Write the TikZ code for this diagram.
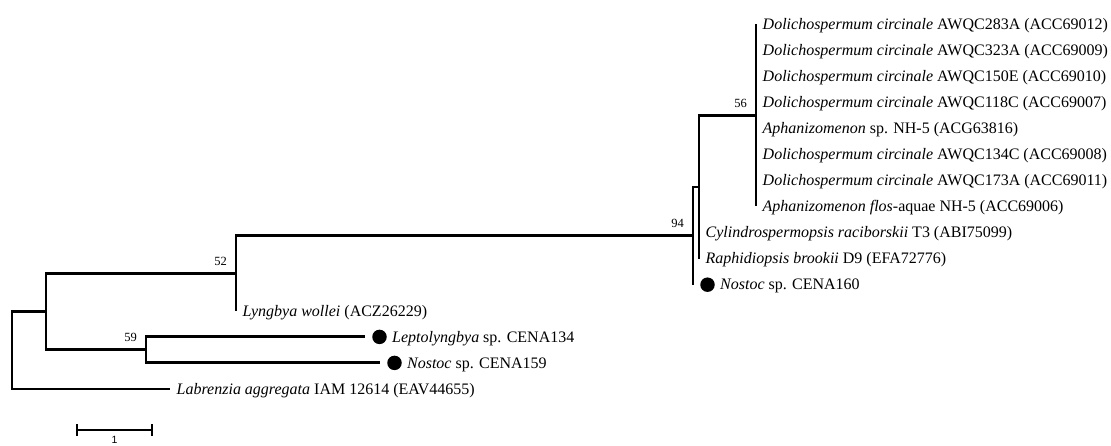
\documentclass[tikz,border=0pt]{standalone}
\usepackage{fontspec}
\setmainfont{Liberation Serif}
\newfontfamily\scalefont{Liberation Sans}
\begin{document}
\begin{tikzpicture}[x=1pt,y=-1pt,
  branch/.style={line width=2.9pt},
  leaf/.style={anchor=base west, inner sep=0pt, font=\fontsize{16}{19}\selectfont, yshift=-5.3pt, xshift=6.5pt},
  dotleaf/.style={anchor=base west, inner sep=0pt, font=\fontsize{16}{19}\selectfont, yshift=-5.3pt, xshift=5pt},
  boot/.style={font=\fontsize{12.5}{15}\selectfont, inner sep=0pt, anchor=base east, xshift=-9pt, yshift=8pt},
  dotmark/.style={circle, fill=black, inner sep=0pt, minimum size=14.5pt, xshift=14.5pt},
  scalebar/.style={line width=1.4pt}
]
\useasboundingbox (0,0) rectangle (1111,446);
% internal nodes
\coordinate (R) at (12,350.3);
\coordinate (C) at (46,311.6);
\coordinate (N52) at (236,273.3);
\coordinate (N59) at (146,349.9);
\coordinate (A) at (693,235.8);
\coordinate (B) at (699,187);
\coordinate (N56) at (756,115.25);
% leaf tips
\foreach \i in {0,...,7} { \coordinate (L\i) at (756,{24+26.07*\i}); }
\coordinate (Cyl) at (699,232.6);
\coordinate (Rap) at (699,258.6);
\coordinate (Nsa) at (693,284.7);
\coordinate (Lyn) at (236,310.8);
\coordinate (Lep) at (365,336.9);
\coordinate (Nsb) at (380,362.9);
\coordinate (Lab) at (170,389);
% branches
\draw[branch] (R) |- (C);
\draw[branch] (R) |- (Lab);
\draw[branch] (C) |- (N52);
\draw[branch] (C) |- (N59);
\draw[branch] (N52) |- (A);
\draw[branch] (N52) |- (Lyn);
\draw[branch] (N59) |- (Lep);
\draw[branch] (N59) |- (Nsb);
\draw[branch] (A) |- (B);
\draw[branch] (A) |- (Nsa);
\draw[branch] (B) |- (N56);
\draw[branch] (B) |- (Cyl);
\draw[branch] (B) |- (Rap);
\foreach \i in {0,...,7} { \draw[branch] (N56) |- (L\i); }
% bootstrap values
\node[boot] (b56) at (N56) {56};
\node[boot] (b94) at (A) {94};
\node[boot] (b52) at (N52) {52};
\node[boot] (b59) at (N59) {59};
% leaf labels
\node[leaf] (t0) at (L0) {\textit{Dolichospermum circinale} AWQC283A (ACC69012)};
\node[leaf] (t1) at (L1) {\textit{Dolichospermum circinale} AWQC323A (ACC69009)};
\node[leaf] (t2) at (L2) {\textit{Dolichospermum circinale} AWQC150E (ACC69010)};
\node[leaf] (t3) at (L3) {\textit{Dolichospermum circinale} AWQC118C (ACC69007)};
\node[leaf] (t4) at (L4) {\textit{Aphanizomenon} sp. NH-5 (ACG63816)};
\node[leaf] (t5) at (L5) {\textit{Dolichospermum circinale} AWQC134C (ACC69008)};
\node[leaf] (t6) at (L6) {\textit{Dolichospermum circinale} AWQC173A (ACC69011)};
\node[leaf] (t7) at (L7) {\textit{Aphanizomenon flos}-aquae NH-5 (ACC69006)};
\node[leaf] (tc) at (Cyl) {\textit{Cylindrospermopsis raciborskii} T3 (ABI75099)};
\node[leaf] (tr) at (Rap) {\textit{Raphidiopsis brookii} D9 (EFA72776)};
\node[leaf] (tly) at (Lyn) {\textit{Lyngbya wollei} (ACZ26229)};
\node[leaf] (tla) at (Lab) {\textit{Labrenzia aggregata} IAM 12614 (EAV44655)};
% marked leaves
\node[dotmark] (dna) at (Nsa) {};
\node[dotleaf] (tna) at (dna.east) {\textit{Nostoc} sp. CENA160};
\node[dotmark] (dle) at (Lep) {};
\node[dotleaf] (tle) at (dle.east) {\textit{Leptolyngbya} sp. CENA134};
\node[dotmark] (dnb) at (Nsb) {};
\node[dotleaf] (tnb) at (dnb.east) {\textit{Nostoc} sp. CENA159};
% scale bar
\coordinate (s1) at (77,430);
\coordinate (s2) at (152,430);
\draw[scalebar] (s1) -- (s2);
\draw[scalebar] ([yshift=6pt]s1) -- ([yshift=-6pt]s1);
\draw[scalebar] ([yshift=6pt]s2) -- ([yshift=-6pt]s2);
\node[font=\scalefont\fontsize{10.5}{12}\selectfont, anchor=north, inner sep=0pt] (sl) at (114.5,436.5) {1};
\end{tikzpicture}
\end{document}
